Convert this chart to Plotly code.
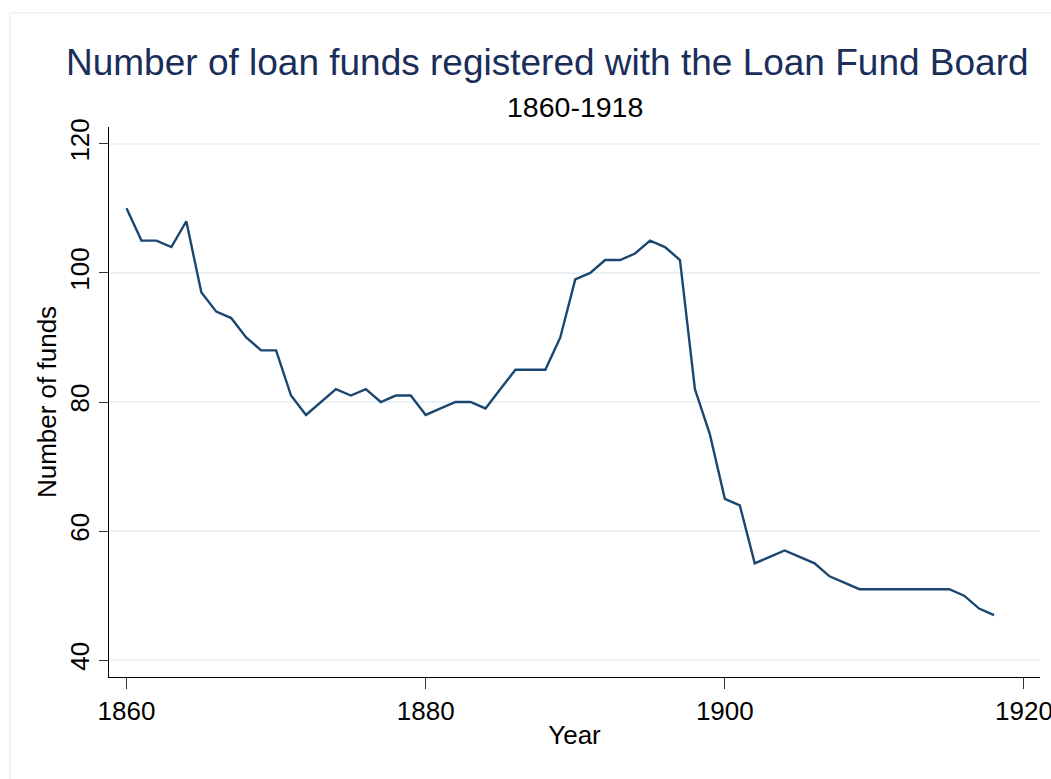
import plotly.graph_objects as go

years = list(range(1860, 1919))
funds = [110, 105, 105, 104, 108, 97, 94, 93, 90, 88,
         88, 81, 78, 80, 82, 81, 82, 80, 81, 81,
         78, 79, 80, 80, 79, 82, 85, 85, 85, 90,
         99, 100, 102, 102, 103, 105, 104, 102, 82, 75,
         65, 64, 55, 56, 57, 56, 55, 53, 52, 51,
         51, 51, 51, 51, 51, 51, 50, 48, 47]
x_ticks = [1860, 1880, 1900, 1920]
y_ticks = [40, 60, 80, 100, 120]

title = "Number of loan funds registered with the Loan Fund Board"
subtitle = "1860-1918"

OFF = 0  # page body margin removed by post_script
W, H = 1051, 779
L, R, T, B = 109, 11, 127, 102
pw, ph = W - L - R, H - T - B

def px(xs):
    return (xs - OFF - L) / pw

def py(ys):
    return (H - B - (ys - OFF)) / ph

FONT = "Liberation Sans, Arial, sans-serif"

fig = go.Figure()
fig.add_trace(go.Scatter(x=years, y=funds, mode="lines",
                         line=dict(color="#1a476f", width=2.4),
                         showlegend=False))

fig.update_layout(
    width=W, height=H,
    margin=dict(l=L, r=R, t=T, b=B, autoexpand=False),
    paper_bgcolor="white", plot_bgcolor="white",
    font=dict(family=FONT, color="black", size=26),
    xaxis=dict(range=[1858.83, 1921.07], tickvals=x_ticks,
               showgrid=False, zeroline=False, automargin=False,
               showline=True, linecolor="black", linewidth=1,
               ticks="outside", ticklen=11, tickcolor="#333", tickwidth=1,
               ticklabeloverflow="allow",
               tickfont=dict(size=26, family=FONT),
               title=dict(text="Year", font=dict(size=26, family=FONT), standoff=0)),
    yaxis=dict(range=[37.4, 122.6], tickvals=y_ticks,
               showgrid=True, gridcolor="#eaf2f3", gridwidth=2,
               zeroline=False, automargin=False,
               showline=True, linecolor="black", linewidth=1,
               ticks="outside", ticklen=9, tickcolor="#333", tickwidth=1,
               tickangle=-90,
               tickfont=dict(size=26, family=FONT),
               title=dict(text="Number of funds", font=dict(size=26, family=FONT), standoff=0)),
)

fig.add_annotation(text=title, xref="paper", yref="paper",
                   x=px(547), y=py(62), xanchor="center", yanchor="middle",
                   showarrow=False, font=dict(size=37, color="#1a2e5a", family=FONT))
fig.add_annotation(text=subtitle, xref="paper", yref="paper",
                   x=px(575), y=py(107), xanchor="center", yanchor="middle",
                   showarrow=False, font=dict(size=28.5, color="black", family=FONT))

fig.add_shape(type="rect", xref="paper", yref="paper",
              x0=px(10), x1=px(1090), y0=py(800), y1=py(13),
              line=dict(color="#e6eaec", width=1), layer="below")

fig.write_html("out.html",
               config={"displayModeBar": False},
               post_script="document.body.style.margin='0';document.body.style.overflow='hidden';")
